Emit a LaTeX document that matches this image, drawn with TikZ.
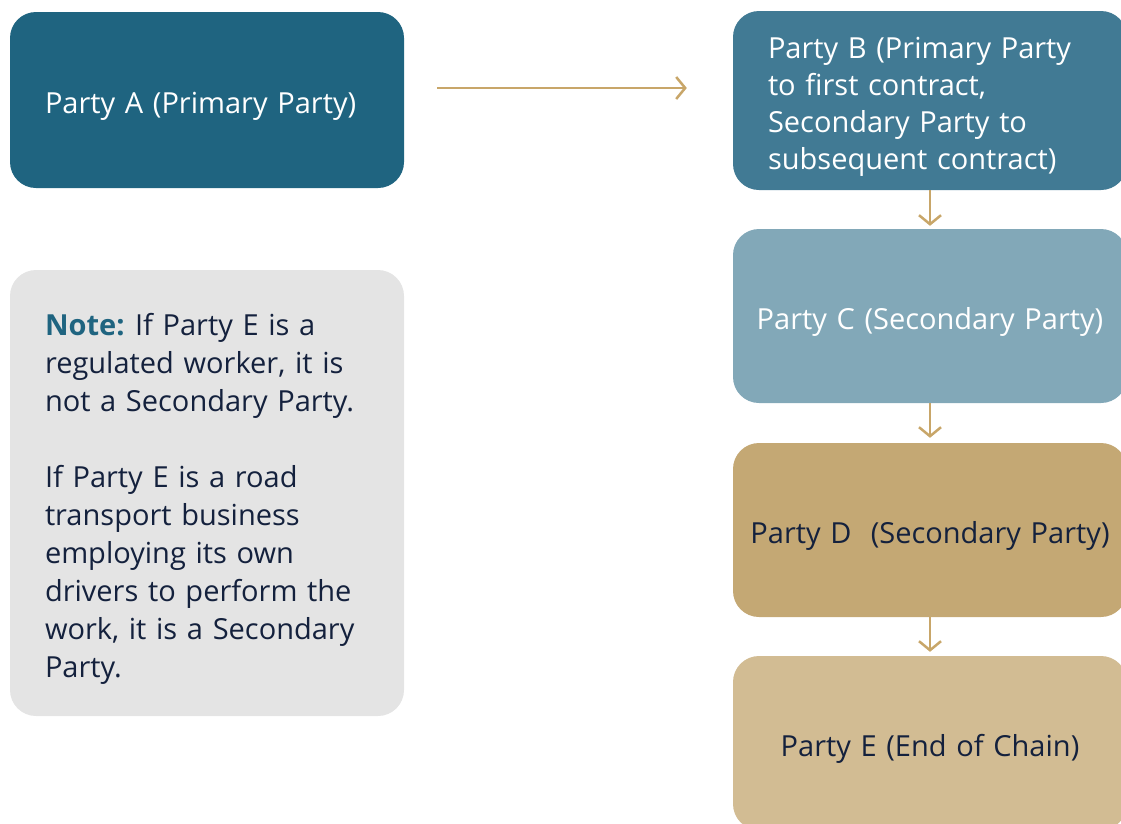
\documentclass[tikz,border=0pt]{standalone}
\usepackage{fontspec}
\setmainfont{Open Sans}
\usetikzlibrary{arrows.meta}

\definecolor{tealdark}{HTML}{1F6480}
\definecolor{tealmid}{HTML}{417A94}
\definecolor{teallight}{HTML}{82A8B8}
\definecolor{golddark}{HTML}{C4A874}
\definecolor{goldlight}{HTML}{D2BC93}
\definecolor{notegrey}{HTML}{E4E4E4}
\definecolor{navy}{HTML}{14213D}
\definecolor{arrowgold}{HTML}{C8A669}

\tikzset{
  party/.style={rectangle, rounded corners=26pt, minimum width=394pt,
    minimum height=174pt, text width=324pt, inner xsep=35pt,
    font=\fontsize{29}{37}\selectfont,
    execute at begin node={\rule{0pt}{34pt}}},
  wide/.style={text width=384pt, inner xsep=5pt, align=center},
  link/.style={draw=arrowgold, line width=2.5pt,
    -{Straight Barb[length=9pt, width=22pt, line width=2.5pt]}}
}

\begin{document}
\begin{tikzpicture}[x=1pt, y=-1pt]
\useasboundingbox (0,0) rectangle (1121,823);
\clip (0,0) rectangle (1121,823);

%Left column
\node (A) at (207,100) [party, fill=tealdark, text=white, align=left, minimum height=176pt] {Party A (Primary Party)};

\node (N) at (207,493) [party, fill=notegrey, text=navy, align=left, minimum height=446pt, font=\fontsize{29}{38}\selectfont]
  {\textcolor{tealdark}{\textbf{Note:}}\kern-4pt{} If Party E is a\\
   regulated worker, it is\\
   not a Secondary Party.\\[38pt]
   If Party E is a road\\
   transport business\\
   employing its own\\
   drivers to perform the\\
   work, it is a Secondary\\
   Party.};

%Right column
\node (B) at (930,100.5) [party, fill=tealmid, text=white, align=left, minimum height=179pt]
  {Party B (Primary Party\\ to first contract,\\ Secondary Party to\\ subsequent contract)};
\node (C) at (930,316) [party, wide, fill=teallight, text=white] {Party C (Secondary Party)};
\node (D) at (930,530) [party, wide, fill=golddark, text=navy] {Party D~ (Secondary Party)};
\node (E) at (930,743) [party, wide, fill=goldlight, text=navy] {Party E (End of Chain)};

\draw[link, shorten <=33pt, shorten >=46pt] (A.east |- 0,88) -- (B.west |- 0,88);
\draw[link, shorten >=3pt] (B) -- (C);
\draw[link, shorten >=5pt] (C) -- (D);
\draw[link, shorten >=4pt] (D) -- (E);

\end{tikzpicture}
\end{document}
